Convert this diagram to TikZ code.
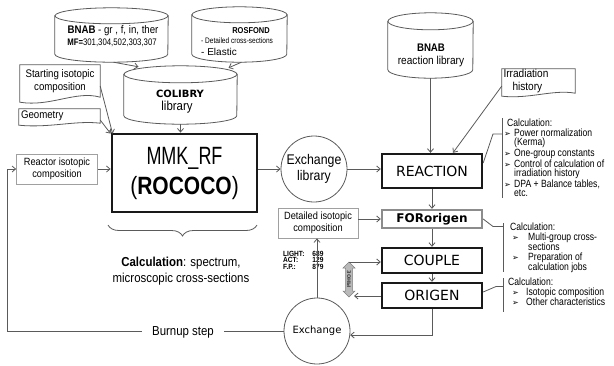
\documentclass[tikz,border=0pt]{standalone}
\usepackage{fontspec}
\setmainfont{Liberation Sans}
\newfontfamily\narrow[FakeStretch=0.88]{Liberation Sans}
\newfontfamily\narrowl[FakeStretch=0.82]{Liberation Sans}
\newfontfamily\mmkA[FakeStretch=0.72]{Liberation Sans}
\newfontfamily\mmkB[FakeStretch=0.84]{Liberation Sans}
\newfontfamily\dv{DejaVu Sans}
\usetikzlibrary{arrows.meta,decorations.pathreplacing,calc}
\definecolor{lc}{HTML}{5A5A5A}
\definecolor{bc}{HTML}{A0A0A0}
\newcommand\bul[1][10pt]{\makebox[#1][l]{\dv\fontsize{8}{8}\selectfont ➢}}
\newcommand\cylout[3]{%
  \path[draw=lc, line width=0.8pt, fill=white] ([yshift=-#3]#1.north west) -- ([yshift=#3]#1.south west)
     arc[start angle=180, end angle=360, x radius=#2, y radius=#3] -- ([yshift=-#3]#1.north east) -- cycle;
  \path[draw=lc, line width=0.8pt, fill=white] ([yshift=-#3]#1.north) ellipse[x radius=#2, y radius=#3];
}
\newcommand\docout[4]{% node, up-bulge, down-bulge, left drop
  \draw[draw=lc, line width=0.8pt] (#1.north west) -- (#1.north east) -- (#1.south east)
    .. controls ($(#1.south east)!0.3!(#1.south west)+(0,#2)$) and ($(#1.south east)!0.62!(#1.south west)+(0,-#3)$)
    .. ([yshift=-#4]#1.south west) -- cycle;
}
\begin{document}
\begin{tikzpicture}[x=1pt,y=-1pt,
  line/.style={draw=lc, line width=0.8pt},
  arr/.style={line, -{Straight Barb[length=3.5pt,width=6pt]}},
  thickbox/.style={draw=black!90, line width=2.4pt, inner sep=0pt, font=\dv\fontsize{14}{16}\selectfont},
  thinbox/.style={draw=bc, line width=0.7pt, inner sep=0pt, align=center},
  lbl/.style={inner sep=0pt, align=center},
  blank/.style={inner sep=0pt},
]
\useasboundingbox (0,0) rectangle (614,365);

% ---- cylinders ----
\node[blank, minimum width=113pt, minimum height=54pt] (bnab) at (111.5,35) {};
\cylout{bnab}{56.5pt}{8pt}
\node[lbl] (bnabt1) at (113,31) {\narrow\fontsize{11}{13}\selectfont\textbf{BNAB} - gr , f, in, ther};
\node[lbl] (bnabt2) at (112,42.5) {\narrowl\fontsize{9.5}{10}\selectfont\textbf{MF=}301,304,502,303,307};

\node[blank, minimum width=95pt, minimum height=55pt] (rosf) at (239.5,34.5) {};
\cylout{rosf}{47.5pt}{8pt}
\node[lbl] (rosft) at (251,31) {\narrow\fontsize{8.5}{10}\selectfont\textbf{ROSFOND}};
\node[lbl, anchor=west, align=left] (rosfl) at (201,47) {\narrowl\fontsize{8}{10}\selectfont - Detailed cross-sections\\- Elastic};

\node[blank, minimum width=113pt, minimum height=58pt] (colib) at (180.5,95) {};
\cylout{colib}{56.5pt}{8.5pt}
\node[lbl] (colibt1) at (180,94) {\dv\bfseries\fontsize{10}{12}\selectfont COLIBRY};
\node[lbl] (colibt2) at (177,107) {\narrow\fontsize{13}{15}\selectfont library};

\node[blank, minimum width=85pt, minimum height=65pt] (bnabr) at (430.5,45.5) {};
\cylout{bnabr}{42.5pt}{8.5pt}
\node[lbl] (bnabrt1) at (431,48) {\narrow\fontsize{11}{13}\selectfont\textbf{BNAB}};
\node[lbl] (bnabrt2) at (431,62) {\narrow\fontsize{11.5}{13}\selectfont reaction library};

% ---- documents ----
\node[lbl, minimum width=80pt, minimum height=32pt, font=\narrow\fontsize{11}{13}\selectfont] (start) at (60,81) {Starting isotopic\\composition};
\docout{start}{7pt}{10pt}{5pt}
\node[blank, minimum width=81pt, minimum height=14pt, font=\narrow\fontsize{11}{12.5}\selectfont] (geom) at (59.5,116) {\makebox[77pt][l]{Geometry}};
\docout{geom}{3pt}{5pt}{2pt}
\node[blank, text width=70pt, inner xsep=1.5pt, minimum height=24pt, align=left, font=\narrow\fontsize{11.5}{13}\selectfont] (irr) at (538.5,81) {Irradiation\\\hspace{9pt}history};
\docout{irr}{4pt}{6pt}{3pt}

% ---- main boxes ----
\node[thickbox, line width=2.8pt, minimum width=145pt, minimum height=78pt, align=center, font=\fontsize{25}{30}\selectfont] (mmk) at (184.5,173) {\raisebox{3pt}{\mmkA MMK\_RF}\\\raisebox{3pt}{\mmkB(\textbf{ROCOCO})}};
\node[thinbox, minimum width=81pt, minimum height=30pt, font=\narrow\fontsize{10.5}{12.5}\selectfont] (reactor) at (57,169) {Reactor isotopic\\composition};
\node[circle, line, minimum size=66pt, inner sep=0pt, align=center, font=\narrow\fontsize{14}{16}\selectfont] (exch1) at (314,169) {Exchange\\library};
\node[thickbox, minimum width=100pt, minimum height=34pt] (reaction) at (432,171) {REACTION};
\node[thinbox, minimum width=80pt, minimum height=30pt, font=\narrow\fontsize{10.5}{12.5}\selectfont] (detail) at (318,223) {Detailed isotopic\\composition};
\node[thickbox, draw=black!45, minimum width=100pt, minimum height=18pt, font=\dv\bfseries\fontsize{12}{14}\selectfont] (fororig) at (432,219) {FORorigen};
\node[thickbox, minimum width=100pt, minimum height=25pt] (couple) at (432,260.5) {COUPLE};
\node[thickbox, minimum width=100pt, minimum height=25pt] (origen) at (432,295.5) {ORIGEN};
\node[circle, line, minimum size=66pt, inner sep=0pt, font=\dv\fontsize{10}{12}\selectfont] (exch2) at (317,331) {Exchange};

% ---- counts ----
\node[blank, anchor=north west, font=\narrow\bfseries\fontsize{7.5}{7.5}\selectfont] (counts) at (283,251)
  {\begin{tabular}{@{}l@{\hspace{8pt}}l@{}}LIGHT: & 689\\[-1.2pt] ACT: & 129\\[-1.2pt] F.P.: & 879\end{tabular}};

% ---- zones double arrow ----
\path[fill=gray!55, draw=gray, line width=0.5pt] (349,262) -- (355,268) -- (352.5,268) -- (352.5,291) -- (355,291) -- (349,297) -- (343,291) -- (345.5,291) -- (345.5,268) -- (343,268) -- cycle;
\node[blank, rotate=-90, font=\dv\bfseries\fontsize{5}{5}\selectfont, text=black!75] (zony) at (349,279.5) {ЗОНЫ};
\coordinate (zt) at (349,262);
\coordinate (zb) at (354,296);

% ---- brace and caption ----
\draw[line, decorate, decoration={brace, mirror, amplitude=11pt, raise=0pt}] (108,225) -- (257,225);
\node[lbl, font=\narrow\fontsize{13}{16}\selectfont] (calcm) at (181,271) {\textbf{Calculation}: spectrum,\\microscopic cross-sections};

% ---- lists ----
\node[blank, anchor=north west, align=left, font=\narrowl\fontsize{10.5}{9.5}\selectfont] (list1) at (504,119)
 {\hspace{3pt}Calculation:\\\bul Power normalization\\\hspace{10pt}(Kerma)\\\bul One-group constants\\\bul Control of calculation of\\\hspace{10pt}irradiation history\\\bul DPA + Balance tables,\\\hspace{10pt}etc.};
\node[blank, anchor=north west, align=left, font=\narrowl\fontsize{10.5}{10}\selectfont] (list2) at (508,223)
 {\hspace{2pt}Calculation:\\\hspace{4pt}\bul[16pt]Multi-group cross-\\\hspace{20pt}sections\\\hspace{4pt}\bul[16pt]Preparation of\\\hspace{20pt}calculation jobs};
\node[blank, anchor=north west, align=left, font=\narrowl\fontsize{10.5}{10}\selectfont] (list3) at (507,278)
 {\hspace{1pt}Calculation:\\\hspace{5pt}\bul[14pt]Isotopic composition\\\hspace{5pt}\bul[14pt]Other characteristics};

\coordinate (b1a) at (493,134); \coordinate (b1b) at (502,134);
\draw[line] (reaction.east |- 0,163) -- (b1a) -- (b1b);
\draw[line] (502,118) -- (502,198);
\coordinate (b2a) at (493,226.5); \coordinate (b2b) at (503,226.5);
\draw[line] (fororig.east) -- (b2a) -- (b2b);
\draw[line] (503,223) -- (503,272);
\coordinate (b3a) at (496,286.5); \coordinate (b3b) at (503,286.5);
\draw[line] (origen.east |- 0,292) -- (b3a) -- (b3b);
\draw[line] (503,278) -- (503,312);

% ---- connectors ----
\draw[arr] (bnab.south) ++(2pt,0) -- ([xshift=-42pt,yshift=-1pt]colib.north);
\draw[arr] ([xshift=2pt]rosf.south) -- ([xshift=48pt,yshift=-2pt]colib.north);
\draw[arr] (colib.south) -- (colib.south |- mmk.north);
\draw[arr] (start.east |- 0,86) -- ([xshift=2pt,yshift=-1pt]mmk.north west);
\draw[arr] (geom.east |- 0,120) -- ([xshift=0pt,yshift=-1pt]mmk.north west);
\draw[arr] (reactor.east) -- (reactor.east -| mmk.west);
\draw[arr] (mmk.east |- exch1.west) -- (exch1.west);
\draw[arr] (exch1.east) -- (exch1.east -| reaction.west);
\draw[arr] (bnabr.south) -- (bnabr.south |- reaction.north);
\draw[arr] (irr.west |- 0,86) -- ([xshift=21pt]reaction.north);
\draw[arr] (reaction.south) -- (fororig.north);
\draw[arr] (detail.east |- fororig.west) -- (fororig.west);
\draw[arr] (fororig.south) -- (couple.north);
\draw[arr] (couple.south) -- (origen.north);
\draw[arr] (zt) -- (zt -| couple.west);
\draw[arr] (origen.west |- zb) -- (zb);
\draw[arr] (origen.south) |- (exch2.-7);
\draw[arr] (exch2.north) -- (exch2.north |- detail.south);

\node[lbl, fill=white, inner xsep=10pt, inner ysep=2pt, font=\narrow\fontsize{13}{15}\selectfont] (burn) at (183,332) {Burnup step};
\coordinate (lc1) at (7,331);
\draw[line] (exch2.west) -- (exch2.west -| burn.east);
\draw[arr] (exch2.west -| burn.west) -- (lc1) |- (reactor.west);
\end{tikzpicture}
\end{document}
